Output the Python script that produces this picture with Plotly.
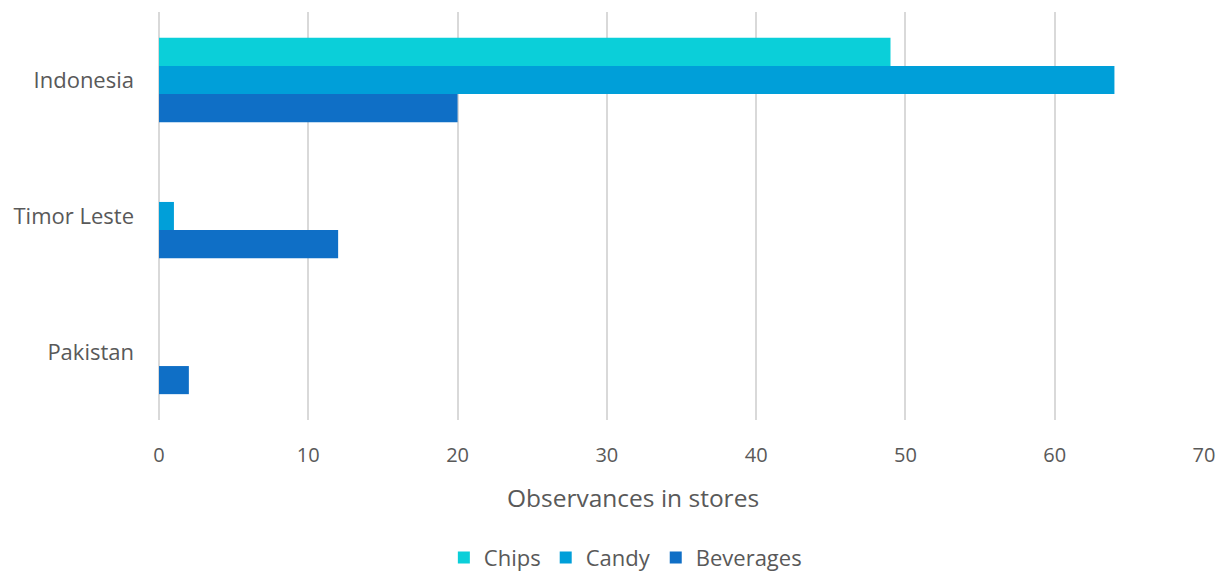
import plotly.graph_objects as go

countries = ["Indonesia", "Timor Leste", "Pakistan"]
chips = [49, 0, 0]
candy = [64, 1, 0]
beverages = [20, 12, 2]
x_ticks = [0, 10, 20, 30, 40, 50, 60, 70]
x_title = "Observances in stores"

series = [
    ("Chips", chips, "#0BCFD9"),
    ("Candy", candy, "#009FD9"),
    ("Beverages", beverages, "#0F6FC6"),
]

fig = go.Figure()
for name, vals, color in series:
    fig.add_trace(go.Bar(
        y=countries, x=vals, name=name, orientation="h",
        marker=dict(color=color, line=dict(width=0)),
    ))

font_family = "Open Sans, Noto Sans, sans-serif"
text_color = "#595959"
grid_color = "#D9D9D9"

fig.update_layout(
    width=1231, height=575,
    margin=dict(l=159, r=27, t=12, b=155),
    paper_bgcolor="white", plot_bgcolor="white",
    barmode="group", bargap=0.38, bargroupgap=0,
    font=dict(family=font_family, size=20, color=text_color),
    xaxis=dict(
        range=[0, 70], tickvals=x_ticks,
        showgrid=True, gridcolor=grid_color, gridwidth=1.5,
        zeroline=True, zerolinecolor=grid_color, zerolinewidth=1.5,
        showline=False, ticks="",
        ticklabelstandoff=21,
        tickfont=dict(size=20, color=text_color),
    ),
    yaxis=dict(
        autorange="reversed", showgrid=False, zeroline=False,
        showline=False, ticks="", ticklabelstandoff=24,
        tickfont=dict(size=22, color=text_color),
    ),
    legend=dict(
        orientation="h", xref="container", yref="container",
        x=0.508, xanchor="center", y=0.03, yanchor="middle",
        font=dict(size=22, color=text_color), itemwidth=30,
        tracegroupgap=0,
    ),
    showlegend=True,
    # x-axis title placed as a paper-anchored annotation below the tick labels
    annotations=[dict(
        text=x_title, xref="paper", yref="paper",
        x=0.4536, y=-0.191, xanchor="center", yanchor="middle",
        showarrow=False, font=dict(size=24.5, color=text_color),
    )],
)

fig.write_html("out.html")
